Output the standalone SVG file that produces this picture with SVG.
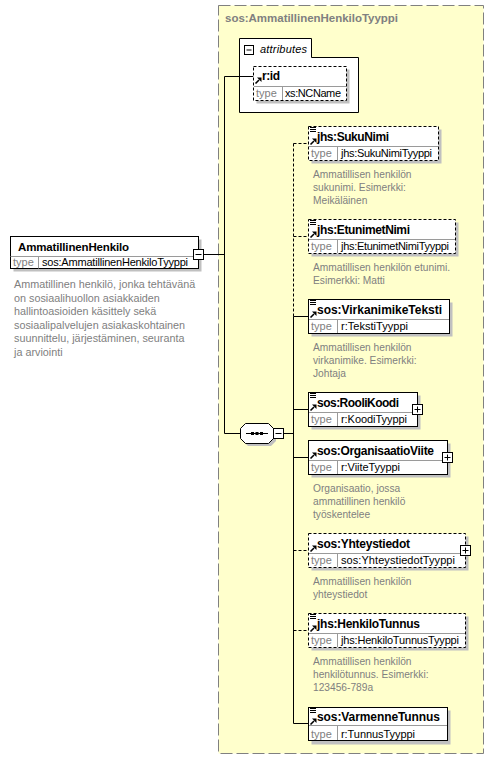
<svg xmlns="http://www.w3.org/2000/svg" xmlns:xlink="http://www.w3.org/1999/xlink" width="494" height="762" viewBox="0 0 494 762">
<style>
text{font-family:"Liberation Sans",Arial,sans-serif}
.nm{font-weight:bold;font-size:12px;fill:#000}
.ty{font-size:11px;fill:#000}
.tl{font-size:11px;fill:#808080}
.ds{font-size:10.2px;fill:#808080}
.dl{font-size:10.8px;fill:#808080}
.box{fill:#fff;stroke:#000;stroke-width:1}
.dash{stroke-dasharray:3,2}
.sh{fill:#c0c0c0}
.div{stroke:#9a9a9a;stroke-width:1}
.cn{stroke:#000;stroke-width:1;fill:none}
.pm{fill:#fff;stroke:#000;stroke-width:1}
.pl{stroke:#000;stroke-width:1}
</style>
<defs>
<g id="doc"><rect x="0" y="0" width="6" height="1" fill="#000"/><rect x="0" y="2" width="6" height="1" fill="#000"/><rect x="0" y="4" width="6" height="1" fill="#000"/></g>
<g id="ref"><path d="M0.5,6.5 L4,3" stroke="#000" stroke-width="1.6"/><polygon points="2,0.5 6.5,0.5 6.5,5" fill="#000"/></g>
<g id="plus"><rect class="pm" x="0.5" y="0.5" width="10" height="10"/><line class="pl" x1="2.5" y1="5.5" x2="8.5" y2="5.5"/><line class="pl" x1="5.5" y1="2.5" x2="5.5" y2="8.5"/></g>
<g id="minus"><rect class="pm" x="0.5" y="0.5" width="10" height="10"/><line class="pl" x1="2.5" y1="5.5" x2="8.5" y2="5.5"/></g>
</defs>

<g id="complexType">
<rect x="218.5" y="5.5" width="265" height="748" fill="#ffffcc" stroke="#808080" stroke-dasharray="12,4"/>
<text class="nm" x="225" y="22" font-size="11.5" fill="#808080" style="fill:#808080;font-size:11.5px" textLength="173">sos:AmmatillinenHenkiloTyyppi</text>
</g>

<g id="attributes">
<path d="M239.5,38.5 H311.5 V57.5 H358.5 V112.5 H239.5 Z" class="box"/>
<rect class="pm" x="244.5" y="45.5" width="9" height="9"/>
<line class="pl" x1="246.5" y1="50" x2="251.5" y2="50"/>
<text x="260" y="53" style="font-size:11px;font-style:italic;fill:#000" textLength="47">attributes</text>
</g>

<g id="connectors">
<line class="cn" x1="203.5" y1="254.5" x2="224.5" y2="254.5"/>
<line class="cn" x1="224.5" y1="76.5" x2="224.5" y2="433.5"/>
<line class="cn" x1="224.5" y1="76.5" x2="253.5" y2="76.5"/>
<line class="cn" x1="224.5" y1="433.5" x2="240" y2="433.5"/>
<line class="cn" x1="284" y1="433.5" x2="293.5" y2="433.5"/>
<line class="cn dash" x1="293.5" y1="143.5" x2="293.5" y2="316.5"/>
<line class="cn" x1="293.5" y1="316.5" x2="293.5" y2="723.5"/>
<line class="cn dash" x1="293.5" y1="143.5" x2="308.5" y2="143.5"/>
<line class="cn dash" x1="293.5" y1="236.5" x2="308.5" y2="236.5"/>
<line class="cn" x1="293.5" y1="316.5" x2="308.5" y2="316.5"/>
<line class="cn" x1="293.5" y1="409.5" x2="308.5" y2="409.5"/>
<line class="cn" x1="293.5" y1="457.5" x2="308.5" y2="457.5"/>
<line class="cn dash" x1="293.5" y1="550.5" x2="308.5" y2="550.5"/>
<line class="cn dash" x1="293.5" y1="630.5" x2="308.5" y2="630.5"/>
<line class="cn" x1="293.5" y1="723.5" x2="308.5" y2="723.5"/>
</g>

<g id="AmmatillinenHenkilo">
<rect class="sh" x="13.5" y="239.5" width="188" height="32"/>
<rect class="box" x="10.5" y="236.5" width="188" height="32"/>
<line class="div" x1="10.5" y1="256.5" x2="198.5" y2="256.5"/>
<line class="div" x1="38.5" y1="256.5" x2="38.5" y2="268.5"/>
<text class="nm" x="18" y="250.5" style="font-size:11.5px" textLength="111">AmmatillinenHenkilo</text>
<text class="tl" x="13" y="266">type</text>
<text class="ty" x="42" y="266" textLength="146">sos:AmmatillinenHenkiloTyyppi</text>
<use xlink:href="#minus" x="193" y="249"/>
<text class="dl" x="14" y="288">Ammatillinen henkilö, jonka tehtävänä</text>
<text class="dl" x="14" y="301.6">on sosiaalihuollon asiakkaiden</text>
<text class="dl" x="14" y="315.2">hallintoasioiden käsittely sekä</text>
<text class="dl" x="14" y="328.8">sosiaalipalvelujen asiakaskohtainen</text>
<text class="dl" x="14" y="342.4">suunnittelu, järjestäminen, seuranta</text>
<text class="dl" x="14" y="356">ja arviointi</text>
</g>

<g id="r_id">
<rect class="sh" x="256.5" y="69.5" width="93" height="34"/>
<rect class="box dash" x="253.5" y="66.5" width="93" height="34"/>
<line class="div" x1="254" y1="86.5" x2="346" y2="86.5"/>
<line class="div" x1="282.5" y1="86.5" x2="282.5" y2="100"/>
<use xlink:href="#ref" x="255" y="77"/>
<text class="nm" x="262" y="80" textLength="18">r:id</text>
<text class="tl" x="256" y="97">type</text>
<text class="ty" x="285" y="97" textLength="56">xs:NCName</text>
</g>

<g id="sequence">
<polygon points="248,426 271,426 276,431 276,441 271,446 248,446 243,441 243,431" class="sh"/>
<polygon points="245.5,423.5 268.5,423.5 273.5,428.5 273.5,438.5 268.5,443.5 245.5,443.5 240.5,438.5 240.5,428.5" class="box"/>
<line class="pl" x1="246" y1="433.5" x2="268" y2="433.5"/>
<rect x="251" y="432" width="3" height="3" fill="#000"/>
<rect x="255.5" y="432" width="3" height="3" fill="#000"/>
<rect x="260" y="432" width="3" height="3" fill="#000"/>
<use xlink:href="#minus" x="273" y="428"/>
</g>

<g id="SukuNimi">
<rect class="sh" x="311.5" y="129.5" width="130" height="34"/>
<rect class="box dash" x="308.5" y="126.5" width="130" height="34"/>
<line class="div" x1="309" y1="146.5" x2="438" y2="146.5"/>
<line class="div" x1="337.5" y1="146.5" x2="337.5" y2="160"/>
<use xlink:href="#doc" x="310" y="127"/>
<use xlink:href="#ref" x="310" y="138"/>
<text class="nm" x="317" y="140.5" textLength="72">jhs:SukuNimi</text>
<text class="tl" x="311" y="157">type</text>
<text class="ty" x="341" y="157" textLength="91">jhs:SukuNimiTyyppi</text>
<text class="ds" x="313" y="178">Ammatillisen henkilön</text>
<text class="ds" x="313" y="191">sukunimi. Esimerkki:</text>
<text class="ds" x="313" y="204">Meikäläinen</text>
</g>

<g id="EtunimetNimi">
<rect class="sh" x="311.5" y="222.5" width="147" height="34"/>
<rect class="box dash" x="308.5" y="219.5" width="147" height="34"/>
<line class="div" x1="309" y1="239.5" x2="455" y2="239.5"/>
<line class="div" x1="337.5" y1="239.5" x2="337.5" y2="253"/>
<use xlink:href="#doc" x="310" y="220"/>
<use xlink:href="#ref" x="310" y="231"/>
<text class="nm" x="317" y="233.5" textLength="93">jhs:EtunimetNimi</text>
<text class="tl" x="311" y="250">type</text>
<text class="ty" x="341" y="250" textLength="108">jhs:EtunimetNimiTyyppi</text>
<text class="ds" x="313" y="271">Ammatillisen henkilön etunimi.</text>
<text class="ds" x="313" y="284">Esimerkki: Matti</text>
</g>

<g id="VirkanimikeTeksti">
<rect class="sh" x="311.5" y="302.5" width="141" height="34"/>
<rect class="box" x="308.5" y="299.5" width="141" height="34"/>
<line class="div" x1="309" y1="319.5" x2="449" y2="319.5"/>
<line class="div" x1="337.5" y1="319.5" x2="337.5" y2="333"/>
<use xlink:href="#doc" x="310" y="300"/>
<use xlink:href="#ref" x="310" y="311"/>
<text class="nm" x="317" y="313.5" textLength="125">sos:VirkanimikeTeksti</text>
<text class="tl" x="311" y="330">type</text>
<text class="ty" x="341" y="330" textLength="67">r:TekstiTyyppi</text>
<text class="ds" x="313" y="351">Ammatillisen henkilön</text>
<text class="ds" x="313" y="364">virkanimike. Esimerkki:</text>
<text class="ds" x="313" y="377">Johtaja</text>
</g>

<g id="RooliKoodi">
<rect class="sh" x="311.5" y="395.5" width="109" height="34"/>
<rect class="box" x="308.5" y="392.5" width="109" height="34"/>
<line class="div" x1="309" y1="412.5" x2="417" y2="412.5"/>
<line class="div" x1="337.5" y1="412.5" x2="337.5" y2="426"/>
<use xlink:href="#doc" x="310" y="393"/>
<use xlink:href="#ref" x="310" y="404"/>
<text class="nm" x="317" y="406.5" textLength="82">sos:RooliKoodi</text>
<text class="tl" x="311" y="423">type</text>
<text class="ty" x="341" y="423" textLength="66">r:KoodiTyyppi</text>
<use xlink:href="#plus" x="412" y="404"/>
</g>

<g id="OrganisaatioViite">
<rect class="sh" x="311.5" y="443.5" width="139" height="34"/>
<rect class="box" x="308.5" y="440.5" width="139" height="34"/>
<line class="div" x1="309" y1="460.5" x2="447" y2="460.5"/>
<line class="div" x1="337.5" y1="460.5" x2="337.5" y2="474"/>
<use xlink:href="#ref" x="310" y="452"/>
<text class="nm" x="317" y="454.5" textLength="117">sos:OrganisaatioViite</text>
<text class="tl" x="311" y="471">type</text>
<text class="ty" x="341" y="471" textLength="59">r:ViiteTyyppi</text>
<use xlink:href="#plus" x="442" y="452"/>
<text class="ds" x="313" y="492">Organisaatio, jossa</text>
<text class="ds" x="313" y="505">ammatillinen henkilö</text>
<text class="ds" x="313" y="518">työskentelee</text>
</g>

<g id="Yhteystiedot">
<rect class="sh" x="311.5" y="536.5" width="157" height="34"/>
<rect class="box dash" x="308.5" y="533.5" width="157" height="34"/>
<line class="div" x1="309" y1="553.5" x2="465" y2="553.5"/>
<line class="div" x1="337.5" y1="553.5" x2="337.5" y2="567"/>
<use xlink:href="#ref" x="310" y="545"/>
<text class="nm" x="317" y="547.5" textLength="93">sos:Yhteystiedot</text>
<text class="tl" x="311" y="564">type</text>
<text class="ty" x="341" y="564" textLength="114">sos:YhteystiedotTyyppi</text>
<use xlink:href="#plus" x="460" y="545"/>
<text class="ds" x="313" y="585">Ammatillisen henkilön</text>
<text class="ds" x="313" y="598">yhteystiedot</text>
</g>

<g id="HenkiloTunnus">
<rect class="sh" x="311.5" y="616.5" width="157" height="34"/>
<rect class="box dash" x="308.5" y="613.5" width="157" height="34"/>
<line class="div" x1="309" y1="633.5" x2="465" y2="633.5"/>
<line class="div" x1="337.5" y1="633.5" x2="337.5" y2="647"/>
<use xlink:href="#doc" x="310" y="614"/>
<use xlink:href="#ref" x="310" y="625"/>
<text class="nm" x="317" y="627.5" textLength="103">jhs:HenkiloTunnus</text>
<text class="tl" x="311" y="644">type</text>
<text class="ty" x="341" y="644" textLength="118">jhs:HenkiloTunnusTyyppi</text>
<text class="ds" x="313" y="665">Ammatillisen henkilön</text>
<text class="ds" x="313" y="678">henkilötunnus. Esimerkki:</text>
<text class="ds" x="313" y="691">123456-789a</text>
</g>

<g id="VarmenneTunnus">
<rect class="sh" x="311.5" y="710.5" width="139" height="34"/>
<rect class="box" x="308.5" y="707.5" width="139" height="33"/>
<line class="div" x1="309" y1="725.5" x2="447" y2="725.5"/>
<line class="div" x1="337.5" y1="725.5" x2="337.5" y2="740"/>
<use xlink:href="#doc" x="310" y="708"/>
<use xlink:href="#ref" x="310" y="718"/>
<text class="nm" x="317" y="721" textLength="123">sos:VarmenneTunnus</text>
<text class="tl" x="311" y="737.5">type</text>
<text class="ty" x="341" y="737.5" textLength="74">r:TunnusTyyppi</text>
</g>
</svg>
